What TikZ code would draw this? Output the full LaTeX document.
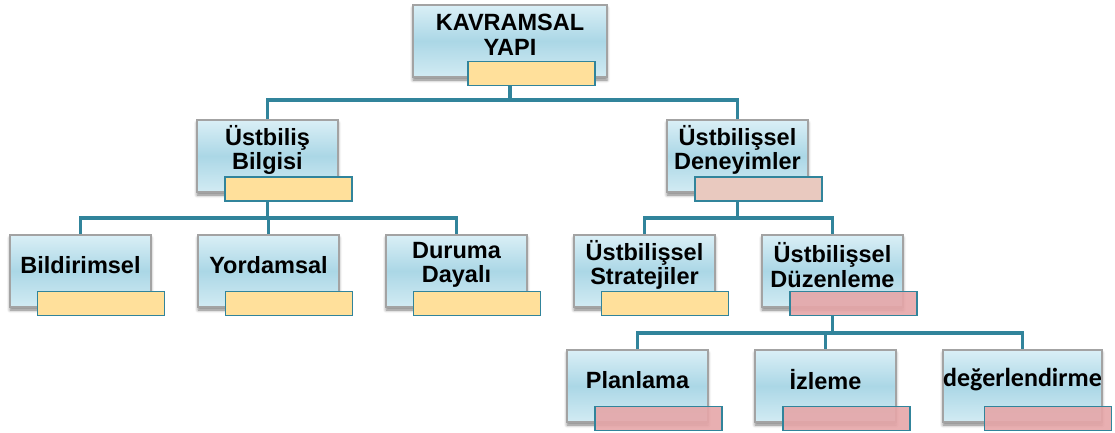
\documentclass[tikz,border=0pt]{standalone}
\usepackage{fontspec}
\setmainfont{Liberation Sans}
\newfontfamily\calfont{Carlito}
\usetikzlibrary{shadows.blur,backgrounds}

\definecolor{boxtop}{HTML}{DAEFF6}
\definecolor{boxmid}{HTML}{ABD7E6}
\definecolor{boxbot}{HTML}{D2EBF3}
\definecolor{boxline}{HTML}{A3A3A3}
\definecolor{linkteal}{HTML}{31849B}
\definecolor{baryellow}{HTML}{FFE09B}
\definecolor{barpeach}{HTML}{E9C9BF}
\definecolor{barrose}{HTML}{E6A6A8}

\begin{document}
\begin{tikzpicture}[x=1pt,y=-1pt,
  box/.style={draw=boxline, line width=1.2pt,
    top color=boxtop, bottom color=boxbot, middle color=boxmid,
    minimum width=141pt, minimum height=72pt, inner sep=0pt,
    blur shadow={shadow xshift=0pt, shadow yshift=-3pt,
      shadow blur radius=3pt, shadow opacity=50}},
  txt/.style={font=\bfseries\fontsize{23.5}{24.5}\selectfont,
    align=center, inner sep=0pt},
  bar/.style={draw=linkteal, line width=1.3pt, inner sep=0pt,
    minimum width=127pt, minimum height=24pt},
  ybar/.style={bar, fill=baryellow},
  pbar/.style={bar, fill=barpeach},
  rbar/.style={bar, fill=barrose, fill opacity=0.9},
  link/.style={draw=linkteal, line width=3.5pt},
]
\useasboundingbox (0,0) rectangle (1115,432);

% levels of the hierarchy: box, caption, tag bar
\node[box, minimum width=194pt] (k) at (510,41) {};
\node[txt] at ([yshift=6pt]k.center) {KAVRAMSAL\\YAPI};
\node[ybar] (kb) at (531.5,73.5) {};

\node[box] (ub) at (267.5,156) {};
\node[txt] at ([yshift=6pt]ub.center) {Üstbiliş\\Bilgisi};
\node[ybar] (ubb) at (288.5,189) {};

\node[box] (ud) at (737.5,156) {};
\node[txt] at ([yshift=6pt]ud.center) {Üstbilişsel\\Deneyimler};
\node[pbar] (udb) at (758.5,189) {};

\node[box] (bi) at (80.5,271) {};
\node[txt] at ([yshift=6pt]bi.center) {Bildirimsel};
\node[ybar] (bib) at (101,303.5) {};

\node[box] (yo) at (268.5,271) {};
\node[txt] at ([yshift=6pt]yo.center) {Yordamsal};
\node[ybar] (yob) at (289,303.5) {};

\node[box] (du) at (456.5,271) {};
\node[txt] at ([yshift=6pt]du.center) {Duruma\\Dayalı};
\node[ybar] (dub) at (477,303.5) {};

\node[box] (st) at (644.5,271) {};
\node[txt] at ([yshift=6pt]st.center) {Üstbilişsel\\Stratejiler};
\node[ybar] (stb) at (665,303.5) {};

\node[box] (dz) at (832.5,271) {};
\node[txt] at ([yshift=6pt]dz.center) {Üstbilişsel\\Düzenleme};
\node[rbar] (dzb) at (853.5,303.5) {};

\node[box] (pl) at (637.5,386) {};
\node[txt] at ([yshift=6pt]pl.center) {Planlama};
\node[rbar] (plb) at (658.5,418.5) {};

\node[box] (iz) at (825.5,386) {};
\node[txt] at ([yshift=6pt]iz.center) {İzleme};
\node[rbar] (izb) at (846.5,418.5) {};

\node[box, minimum width=159pt] (de) at (1022.5,386) {};
\node[txt, font=\calfont\bfseries\fontsize{26}{28}\selectfont]
  at ([yshift=6pt]de.center) {değerlendirme};
\node[rbar] (deb) at (1048,418.5) {};

% connector bus heights
\coordinate (bus1) at (0,100);
\coordinate (bus2) at (0,218);
\coordinate (bus3) at (0,333);

\begin{scope}[on background layer]
  \draw[link] (kb.south -| k.center) -- (k.center |- bus1);
  \draw[link] (ub.north) -- (ub.center |- bus1) -- (ud.center |- bus1) -- (ud.north);

  \draw[link] (ubb.south -| ub.center) -- (ub.center |- bus2);
  \draw[link] (bi.north) -- (bi.center |- bus2) -- (du.center |- bus2) -- (du.north);
  \draw[link] (yo.center |- bus2) -- (yo.north);

  \draw[link] (udb.south -| ud.center) -- (ud.center |- bus2);
  \draw[link] (st.north) -- (st.center |- bus2) -- (dz.center |- bus2) -- (dz.north);

  \draw[link] (dzb.south -| dz.center) -- (dz.center |- bus3);
  \draw[link] (pl.north) -- (pl.center |- bus3) -- (de.center |- bus3) -- (de.north);
  \draw[link] (iz.center |- bus3) -- (iz.north);
\end{scope}
\end{tikzpicture}
\end{document}
